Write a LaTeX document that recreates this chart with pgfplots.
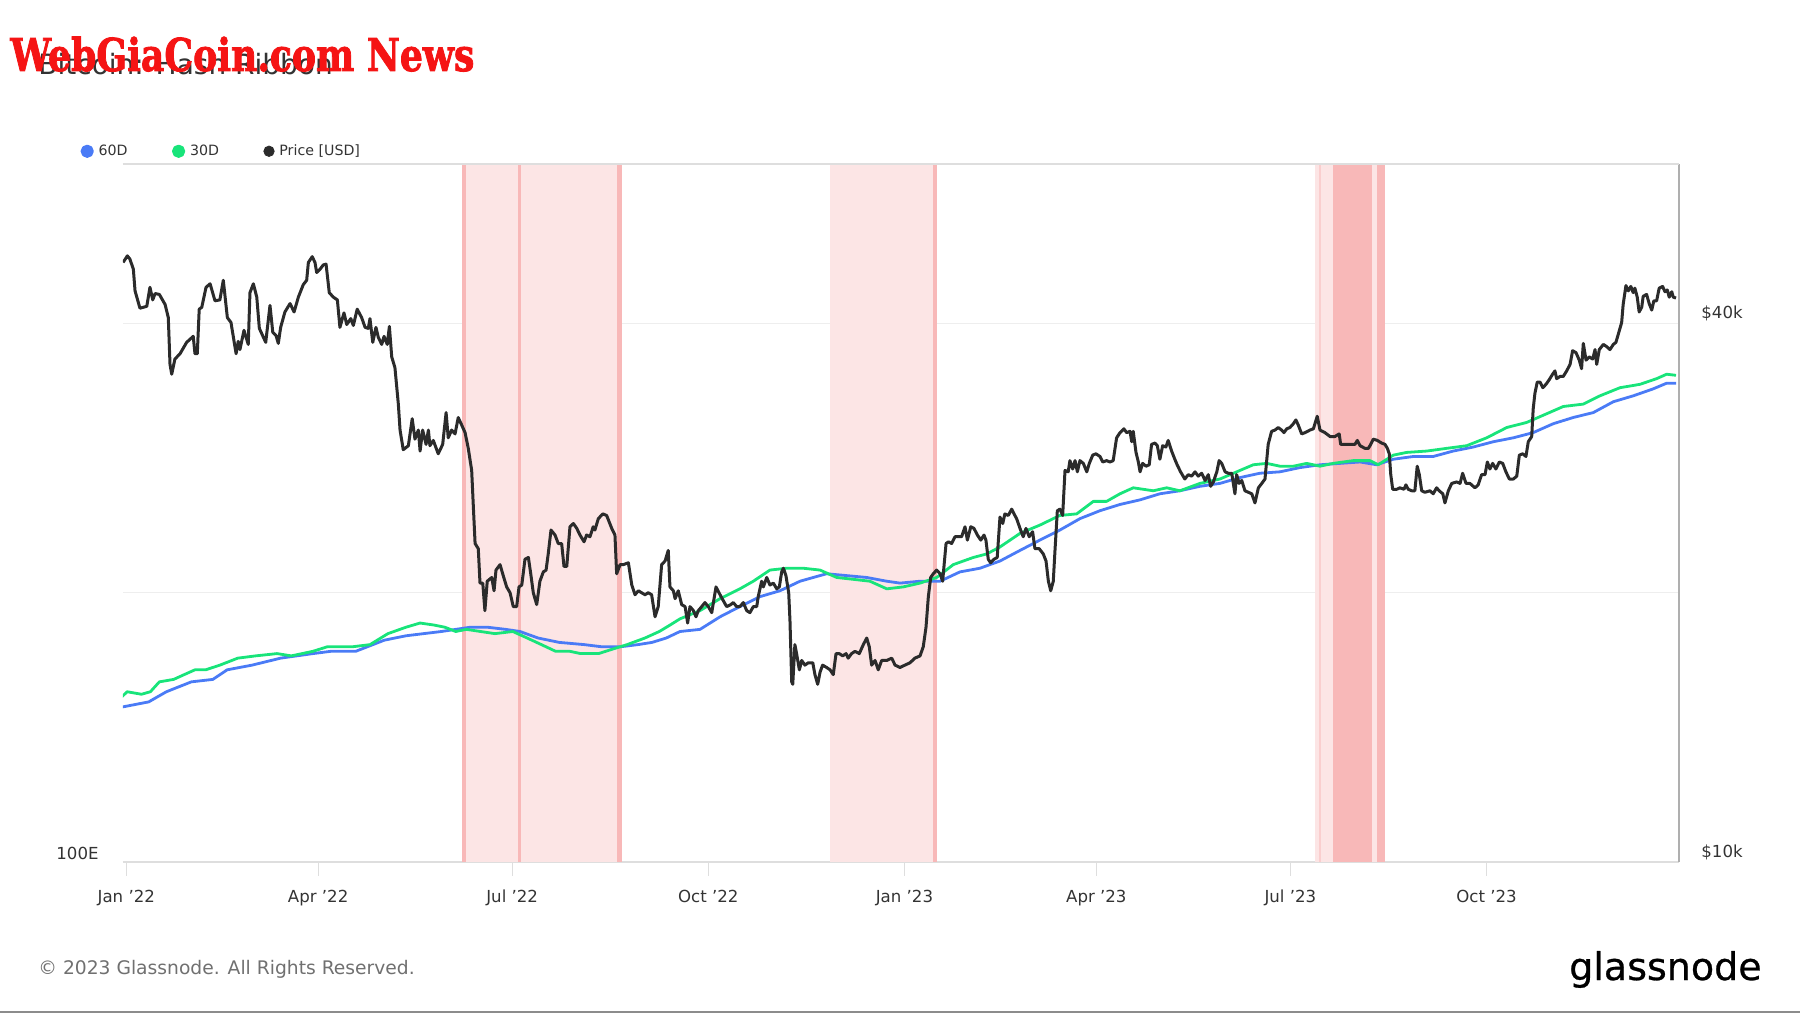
\documentclass[border=0pt]{standalone}
\usepackage{fontspec}
\setmainfont{DejaVu Sans}
\newfontfamily\wmfont[FakeBold=2]{DejaVu Serif}
\newfontfamily\logofont[FakeBold=0.7]{DejaVu Sans}
\usepackage{graphicx}
\usepackage{pgfplots}
\pgfplotsset{compat=1.18}
\definecolor{c60}{RGB}{74,123,246}
\definecolor{c30}{RGB}{24,228,122}
\definecolor{cprice}{RGB}{43,43,43}
\definecolor{shL}{RGB}{252,229,229}
\definecolor{shM}{RGB}{250,206,206}
\definecolor{shD}{RGB}{248,184,184}
\definecolor{gridc}{RGB}{238,238,238}
\definecolor{axisc}{RGB}{222,222,222}
\definecolor{raxisc}{RGB}{175,175,175}
\definecolor{labc}{RGB}{51,51,51}
\definecolor{copyc}{RGB}{112,112,112}
\definecolor{wmred}{RGB}{245,20,20}
\pgfplotsset{base/.style={scale only axis, width=778pt, height=349pt,
  xmin=-1.55, xmax=728.3, at={(0pt,0pt)}, anchor=south west,
  /pgf/number format/assume math mode=true}}
\begin{document}
\begin{tikzpicture}
\path[use as bounding box] (-61.5pt,-75.5pt) rectangle (838.5pt,431pt);
% ---------- Axis A: shading, grid, ticks ----------
\begin{axis}[base, ymode=log, ymin=10, ymax=60.3,
  axis x line*=bottom, axis y line*=right,
  x axis line style={draw=axisc, line width=1pt, -},
  y axis line style={draw=raxisc, line width=1pt, -},
  xtick={0,90,181,273,365,455,546,638},
  xticklabels={Jan '22,Apr '22,Jul '22,Oct '22,Jan '23,Apr '23,Jul '23,Oct '23},
  xtick align=outside, major tick length=7pt,
  x tick style={draw=axisc, line width=0.6pt},
  xticklabel style={font=\fontsize{8.3}{10}\selectfont, text=labc, anchor=base, yshift=-13.5pt},
  ytick={10,20,40}, yticklabels={\$10k,,\$40k},
  y tick style={draw=none},
  ymajorgrids, y grid style={gridc, line width=0.7pt},
  yticklabel style={font=\fontsize{8.3}{10}\selectfont, text=labc, anchor=west, inner sep=0pt, xshift=11pt, yshift=5pt},
]
\addplot[fill=shL, draw=none] coordinates {(157.5,10) (157.5,60.3) (232.4,60.3) (232.4,10)} -- cycle;
\addplot[fill=shD, draw=none] coordinates {(157.5,10) (157.5,60.3) (159.2,60.3) (159.2,10)} -- cycle;
\addplot[fill=shD, draw=none] coordinates {(183.7,10) (183.7,60.3) (185.1,60.3) (185.1,10)} -- cycle;
\addplot[fill=shD, draw=none] coordinates {(230.0,10) (230.0,60.3) (232.4,60.3) (232.4,10)} -- cycle;
\addplot[fill=shL, draw=none] coordinates {(330.1,10) (330.1,60.3) (380.1,60.3) (380.1,10)} -- cycle;
\addplot[fill=shD, draw=none] coordinates {(378.6,10) (378.6,60.3) (380.1,60.3) (380.1,10)} -- cycle;
\addplot[fill=shL, draw=none] coordinates {(557.5,10) (557.5,60.3) (565.9,60.3) (565.9,10)} -- cycle;
\addplot[fill=shM, draw=none] coordinates {(559.6,10) (559.6,60.3) (560.4,60.3) (560.4,10)} -- cycle;
\addplot[fill=shD, draw=none] coordinates {(565.9,10) (565.9,60.3) (584.2,60.3) (584.2,10)} -- cycle;
\addplot[fill=shL, draw=none] coordinates {(584.2,10) (584.2,60.3) (586.5,60.3) (586.5,10)} -- cycle;
\addplot[fill=shD, draw=none] coordinates {(586.5,10) (586.5,60.3) (590.4,60.3) (590.4,10)} -- cycle;
\draw[axisc, line width=1pt] (rel axis cs:0,1) -- (rel axis cs:1,1);
\end{axis}
% ---------- Axis B: hash ribbons (EH/s) ----------
\begin{axis}[base, ymode=log, ymin=100, ymax=603,
  axis line style={draw=none}, xtick=\empty,
  ytick={100}, yticklabels={100E}, y tick style={draw=none},
  yticklabel style={font=\fontsize{8.3}{10}\selectfont, text=labc, anchor=east, inner sep=0pt, xshift=-12pt, yshift=4.5pt},
  legend columns=3,
  legend image code/.code={\fill[#1] (0pt,0pt) circle (2.6pt); \path (3.8pt,0pt);},
  legend style={draw=none, fill=none, inner sep=0pt, at={(axis description cs:-0.0275,1.0182)}, anchor=west,
    font=\fontsize{7.1}{9}\selectfont, text=labc, nodes={inner sep=1.2pt},
    /tikz/every even column/.append style={column sep=21pt}},
]
\addplot[c60, line width=1.4pt, line join=round] table {
-2.1 149
10.5 151
18.8 155
30.5 159
40.6 160
47.3 164
59.0 166
72.4 169
87.5 171
95.9 172
107.6 172
121.0 177
131.1 179
139.4 180
147.8 181
154.5 182
161.2 183
169.6 183
178.0 182
184.7 181
193.1 178
203.1 176
214.8 175
223.2 174
231.6 174
240.0 175
246.6 176
253.3 178
259.7 181
269.1 182
278.5 188
287.8 193
297.2 198
306.6 201
316.0 206
322.2 208
328.5 210
337.9 209
347.3 208
356.7 206
362.9 205
372.3 206
381.7 206
391.0 211
400.4 213
409.8 217
419.2 223
428.5 229
437.9 235
447.3 242
456.7 247
466.1 251
475.5 254
484.8 258
494.2 260
503.6 263
513.0 265
522.4 269
531.7 272
541.1 273
550.5 276
559.9 278
569.3 279
578.7 280
586.5 278
594.3 282
603.7 284
613.0 284
622.4 288
631.8 291
641.2 295
650.6 298
659.9 302
669.3 309
678.7 314
688.1 318
697.5 327
706.8 332
716.2 338
722.5 343
726.9 343
};
\addlegendentry{60D}
\addplot[c30, line width=1.4pt, line join=round] table {
-2.1 153
0.4 155
7.1 154
11.3 155
15.5 159
22.2 160
27.2 162
32.2 164
37.2 164
43.9 166
52.3 169
60.7 170
70.7 171
77.4 170
87.5 172
94.2 174
105.9 174
114.3 175
122.7 180
131.1 183
137.8 185
144.5 184
149.5 183
154.5 181
159.5 182
166.2 181
172.9 180
181.3 181
188.0 178
194.7 175
201.4 172
208.1 172
213.1 171
221.5 171
228.2 173
234.9 175
243.3 178
250.0 181
255.0 184
259.7 187
269.1 191
278.5 197
287.8 202
294.1 206
301.9 212
309.8 213
317.5 213
325.4 212
333.2 208
341.0 207
348.8 206
356.7 202
364.4 203
372.3 205
380.1 208
387.9 215
397.3 219
403.6 221
409.8 225
419.2 233
428.5 238
437.9 244
445.8 245
453.6 253
459.8 253
466.1 258
472.3 262
481.7 260
488.0 262
494.2 260
503.6 265
513.0 268
522.4 274
528.6 278
534.9 279
541.1 277
547.4 277
553.7 279
559.9 277
566.1 279
575.5 281
583.3 281
587.2 278
594.3 285
600.6 287
610.0 288
619.3 290
628.7 292
638.1 298
647.5 306
656.8 310
666.2 317
674.0 323
683.4 325
691.2 332
700.6 339
710.0 342
717.8 347
722.5 351
726.9 350
};
\addlegendentry{30D}
\addlegendimage{cprice}
\addlegendentry{Price [USD]}
\end{axis}
% ---------- Axis C: price (k USD) ----------
\begin{axis}[base, ymode=log, ymin=10, ymax=60.3, hide axis]
\addplot[cprice, line width=1.5pt, line join=round] table {
-1.5 46.8
0.5 47.6
1.7 47.2
3.3 46.0
4.1 43.5
6.4 41.6
9.6 41.8
11.1 43.9
12.4 42.5
13.5 43.2
15.5 43.1
18.2 42.0
19.7 40.6
20.5 36.0
21.3 35.1
22.8 36.5
25.2 37.0
28.3 38.1
31.4 38.7
32.2 37.0
33.3 37.0
34.2 41.5
35.4 41.7
37.4 43.9
39.3 44.3
41.6 42.4
43.9 42.5
45.5 44.7
47.4 40.6
49.1 40.1
51.5 37.0
52.5 38.2
53.3 37.4
55.2 39.3
57.2 37.9
58.0 43.3
59.6 44.3
61.2 42.8
62.4 39.5
65.4 38.1
67.4 41.9
68.7 39.1
70.2 38.8
71.3 38.0
72.4 39.6
74.4 41.2
76.8 42.1
78.7 41.2
80.7 42.8
83.0 44.2
84.6 44.7
85.4 46.8
87.2 47.5
88.5 46.8
89.3 45.6
90.9 46.0
92.4 46.5
93.7 46.6
95.2 43.3
97.1 42.8
99.0 42.5
100.2 39.6
102.1 41.1
103.4 39.9
105.3 40.5
106.5 39.8
108.3 41.5
110.4 40.6
112.0 39.6
113.5 39.5
114.3 40.5
115.6 38.1
117.1 39.6
118.2 38.6
119.8 37.9
120.9 38.7
122.4 37.9
123.4 39.7
124.5 36.7
126.0 35.7
127.6 32.5
128.4 30.4
129.9 28.9
132.3 29.2
134.1 31.3
135.4 29.7
137.0 30.4
137.8 28.8
139.0 30.4
140.6 29.3
141.7 30.4
142.4 29.2
144.0 29.6
146.3 28.6
148.4 29.3
150.0 31.8
151.0 29.8
152.6 30.4
154.2 30.1
155.7 31.4
157.3 30.8
158.9 30.2
160.4 29.0
162.0 27.4
162.8 24.9
163.6 22.7
165.1 22.4
165.9 20.5
167.2 20.5
168.2 19.1
169.3 20.6
171.4 20.8
172.5 20.1
173.4 21.2
175.3 21.5
176.8 20.9
178.4 20.3
180.0 20.0
181.5 19.3
183.1 19.3
184.2 20.3
185.5 20.4
187.0 21.8
188.6 21.9
189.7 21.0
190.9 20.0
192.5 19.4
194.0 20.6
195.6 21.1
196.9 21.2
197.9 22.1
199.2 23.5
201.1 23.2
202.6 22.7
204.2 22.7
205.3 21.4
206.6 21.4
208.1 23.7
209.7 23.9
211.3 23.6
212.8 23.2
214.7 22.8
215.9 23.2
217.5 23.1
219.0 23.7
219.8 23.5
221.4 24.2
223.5 24.5
225.3 24.4
227.7 23.6
229.2 23.2
230.0 21.0
231.6 21.5
233.1 21.5
235.5 21.6
237.1 20.4
238.6 19.9
240.2 20.1
241.7 20.0
243.3 19.9
244.8 20.0
246.4 19.9
248.0 18.8
249.5 19.3
251.1 21.5
252.7 21.7
254.2 22.3
255.0 20.3
256.6 20.1
257.4 19.7
258.9 20.1
260.5 19.4
262.1 19.3
263.3 18.5
264.4 19.3
266.0 19.1
267.2 18.8
268.3 19.1
269.9 19.3
271.4 19.5
273.0 19.3
274.6 19.0
276.6 20.3
278.5 19.9
280.0 19.6
281.6 19.3
283.5 19.4
284.7 19.5
286.3 19.3
287.8 19.3
289.4 19.5
291.0 19.1
292.5 19.0
294.1 19.3
295.7 19.3
296.4 19.8
298.0 20.6
298.8 20.3
300.4 20.8
301.9 20.4
303.5 20.5
305.1 20.2
306.3 20.3
307.4 21.1
308.2 21.3
309.4 20.9
310.7 20.0
311.3 18.6
312.1 15.9
312.6 15.8
313.6 17.5
314.4 17.1
315.7 16.4
316.8 16.8
318.3 16.6
319.9 16.7
322.0 16.7
323.0 16.2
324.3 15.8
325.4 16.3
326.6 16.6
328.5 16.5
330.1 16.4
331.6 16.2
332.9 17.1
334.4 17.1
336.0 17.0
337.6 17.1
338.6 16.9
340.2 17.1
341.8 17.2
343.8 17.1
345.7 17.5
347.3 17.8
348.5 17.4
349.6 16.6
351.2 16.8
352.7 16.4
354.3 16.8
356.7 16.8
359.0 16.9
360.6 16.6
362.9 16.5
365.2 16.6
367.6 16.7
369.9 16.9
372.3 17.0
373.8 17.4
375.1 18.3
376.2 19.8
377.3 20.8
378.5 21.0
380.1 21.2
381.7 21.0
382.9 20.6
384.5 22.7
385.6 22.8
387.1 22.7
388.7 23.1
390.2 23.1
391.8 23.1
393.4 23.7
394.5 22.9
396.1 23.7
397.6 23.6
399.2 23.2
400.8 22.9
402.3 23.2
403.2 22.9
404.3 21.8
405.4 21.6
407.0 21.8
408.5 21.9
409.8 24.3
411.1 23.9
412.1 24.5
413.7 24.4
415.3 24.8
416.4 24.5
417.6 24.2
419.2 23.6
420.7 23.1
422.0 23.6
423.5 23.1
425.1 23.4
426.2 22.4
428.2 22.4
430.1 22.1
431.4 21.7
432.5 20.6
433.6 20.1
434.8 20.6
435.6 22.3
436.7 24.7
437.9 24.8
439.2 24.4
440.3 27.4
441.8 27.3
442.6 28.1
443.9 27.5
445.0 28.1
446.1 27.3
447.3 28.1
448.9 27.9
450.5 27.3
451.7 27.9
453.3 28.5
454.8 28.6
456.7 28.4
458.0 28.0
459.8 28.1
461.4 28.0
462.9 28.1
464.5 29.8
466.1 30.2
467.9 30.5
469.2 30.2
470.8 30.3
471.6 29.5
472.3 30.3
473.6 28.7
474.7 28.0
475.5 27.3
476.7 27.9
478.3 27.7
479.8 27.8
480.9 29.3
482.5 29.4
483.6 29.2
484.8 28.2
486.1 29.2
487.6 29.1
488.7 29.6
490.3 28.8
491.8 28.2
492.9 27.8
494.5 27.3
496.5 26.8
498.1 27.1
499.7 27.0
501.3 27.3
502.8 27.0
504.4 27.2
506.0 26.7
507.5 27.1
508.6 26.3
509.9 26.6
511.5 27.3
512.6 28.1
513.8 27.9
515.4 27.3
516.9 27.2
518.5 27.2
520.0 25.8
520.8 27.1
522.0 26.5
523.2 26.7
524.7 26.0
526.3 25.9
527.9 25.8
529.4 25.2
531.0 26.2
532.6 26.5
534.1 26.8
535.6 29.3
537.2 30.3
538.8 30.4
540.3 30.6
541.9 30.4
543.0 30.2
544.3 30.5
545.8 30.6
547.4 30.9
548.6 31.2
549.7 30.8
551.3 30.1
552.9 30.2
555.2 30.4
556.8 30.5
558.6 31.5
559.9 30.4
562.2 30.2
564.6 29.9
566.9 29.9
568.9 30.1
569.6 29.3
571.6 29.3
574.0 29.3
576.3 29.3
577.4 29.6
578.7 29.2
581.0 29.0
582.6 29.0
583.7 29.3
584.9 29.7
586.8 29.6
588.8 29.4
590.4 29.3
591.5 29.0
592.4 28.6
593.1 27.1
594.0 26.1
595.9 26.1
597.4 26.2
599.3 26.1
600.2 26.4
601.3 26.1
602.9 26.0
604.4 26.0
605.5 27.7
606.5 27.1
607.6 26.0
609.1 25.9
611.5 26.0
613.0 25.8
614.6 26.2
615.8 26.0
617.5 25.8
618.5 25.2
620.1 26.0
621.7 26.5
624.0 26.6
625.6 26.5
626.8 27.2
628.4 26.5
630.2 26.5
632.6 26.2
634.1 26.4
635.7 27.1
637.3 27.1
638.4 28.0
639.6 27.5
640.9 27.9
642.4 27.5
644.0 28.0
645.6 27.9
647.1 27.3
648.7 26.8
650.6 26.8
652.2 27.0
653.4 28.5
655.0 28.6
656.5 28.4
657.6 29.5
659.2 29.9
659.9 32.1
660.7 33.4
661.8 34.4
663.1 34.4
664.4 33.9
665.9 34.2
667.4 34.6
669.0 35.1
670.1 35.4
670.9 34.7
672.5 34.9
674.0 34.9
675.6 35.4
677.2 36.0
678.4 37.3
680.0 37.1
681.5 36.4
682.6 35.6
683.4 38.0
684.7 36.4
686.2 36.7
687.8 36.5
688.9 37.4
689.7 36.0
690.9 37.4
692.8 37.9
694.3 37.7
695.9 37.4
697.5 37.9
698.7 38.1
699.8 38.9
701.4 40.1
702.1 42.0
703.4 44.1
704.5 43.5
705.7 44.0
706.8 43.3
707.6 43.8
708.7 42.8
709.6 41.2
710.8 41.7
711.5 42.9
713.1 43.1
714.3 42.1
715.5 41.4
716.5 42.4
717.8 42.4
719.0 43.8
720.6 44.0
721.7 43.4
722.8 43.6
723.7 42.8
724.9 43.4
725.6 42.8
726.9 42.7
};
\end{axis}
% ---------- surrounding texts ----------
\node[anchor=base west, inner sep=0pt, text=labc, font=\fontsize{14}{16}\selectfont] at (-42.5pt,393.5pt) {Bitcoin: Hash Ribbon};
\node[anchor=base west, inner sep=0pt, text=wmred, font=\wmfont\bfseries\fontsize{22.6}{24}\selectfont] at (-56.5pt,395.5pt) {\scalebox{0.8}[1]{WebGiaCoin.com News}};
\node[anchor=base west, inner sep=0pt, text=copyc, font=\fontsize{9.35}{11}\selectfont] at (-42.5pt,-56pt) {© 2023 Glassnode. All Rights Reserved.};
\node[anchor=base east, inner sep=0pt, text=black, font=\logofont\fontsize{19}{22}\selectfont] at (819.5pt,-59pt) {glassnode};
\fill[black!45] (-61.5pt,-75.5pt) rectangle (838.5pt,-74.3pt);
\end{tikzpicture}
\end{document}
